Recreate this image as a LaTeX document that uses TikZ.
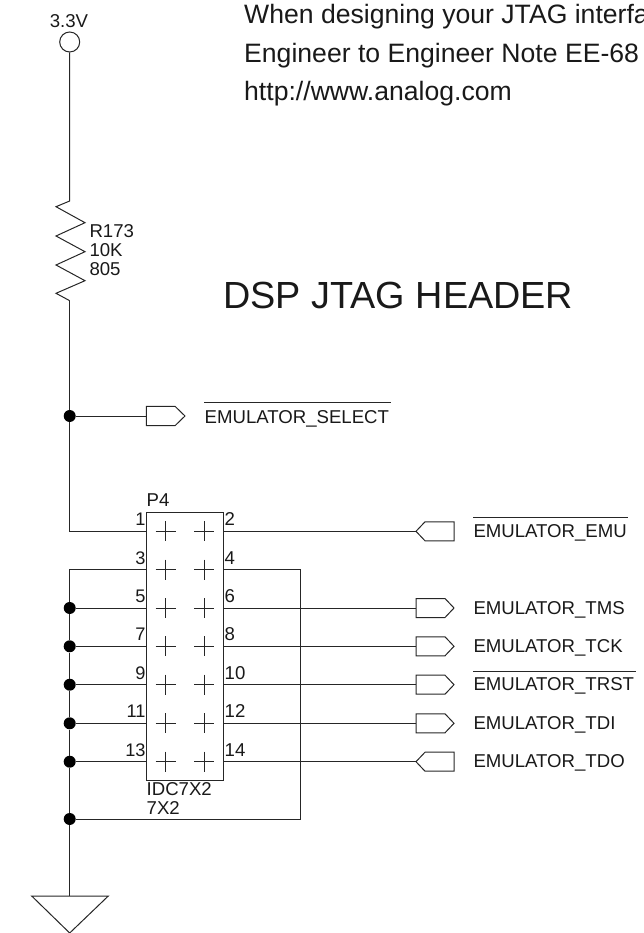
\documentclass[tikz,border=0pt]{standalone}
\usepackage{fontspec}
\setmainfont{Liberation Sans}
\tikzset{
 wire/.style={draw=black!85,line width=1pt},
 lab/.style={anchor=base west,inner sep=0pt,font=\fontsize{18.6}{20}\selectfont,text=black!90},
 pinl/.style={anchor=base east,inner sep=0pt,font=\fontsize{18.2}{20}\selectfont,text=black!90},
 big/.style={anchor=base west,inner sep=0pt,font=\fontsize{37.8}{40}\selectfont,text=black!90},
 note/.style={anchor=base west,inner sep=0pt,font=\fontsize{26.6}{30}\selectfont,text=black!90},
 dot/.style={circle,fill=black,inner sep=0pt,minimum size=12pt},
}
\newcommand{\pinrow}[3]{%
 % #1 y, #2 left no, #3 right no
 \coordinate (L#2) at (146.5,#1);
 \coordinate (R#3) at (223.5,#1);
 \draw[wire] (165.7,#1-10) -- (165.7,#1+10) (155.7,#1) -- (175.7,#1);
 \draw[wire] (204.3,#1-10) -- (204.3,#1+10) (194.3,#1) -- (214.3,#1);
 \node[pinl] (nl#2) at (145.8,#1-5.5) {#2};
 \node[lab] (nr#3) at (224.5,#1-5.5) {#3};
}
\newcommand{\tagout}[3]{% name, y, text
 \draw[wire] (416,#2-9.5) -- (445,#2-9.5) -- (454,#2) -- (445,#2+9.5) -- (416,#2+9.5) -- cycle;
 \node[lab] (t#1) at (473.3,#2+6) {#3};
 \coordinate (#1p) at (416,#2);
}
\newcommand{\tagin}[3]{%
 \draw[wire] (416,#2) -- (425,#2-9.5) -- (454,#2-9.5) -- (454,#2+9.5) -- (425,#2+9.5) -- cycle;
 \node[lab] (t#1) at (473.3,#2+6) {#3};
 \coordinate (#1p) at (416,#2);
}
\begin{document}
\begin{tikzpicture}[x=1pt,y=-1pt]
\useasboundingbox (0,0) rectangle (643,933);
% power
\node[lab,anchor=base] (vlab) at (69,27.5) {3.3V};
\node[circle,wire,inner sep=0pt,minimum size=20pt] (vcc) at (69.7,42) {};
\coordinate (r1) at (69.7,201);
\coordinate (r2) at (69.7,300.7);
\draw[wire] (vcc.south) -- (r1) -- (56,206.7) -- (85,222.7) -- (56,236) -- (85,251.7) -- (56,265) -- (85,280.7) -- (56,293.3) -- (r2);
\node[lab] (rn) at (89.3,237.5) {R173};
\node[lab] (rv) at (89.3,256.5) {10K};
\node[lab] (rp) at (89.3,275.5) {805};
% text
\node[note] (n1) at (244,23.5) {When designing your JTAG interfa};
\node[note] (n2) at (244,62.5) {Engineer to Engineer Note EE-68};
\node[note] (n3) at (244,101) {http://www.analog.com};
\node[big] (title) at (223,308.5) {DSP JTAG HEADER};
% connector
\node[draw=black!85,line width=1pt,inner sep=0pt,minimum width=77pt,minimum height=268.4pt] (p4) at (184.9,646.5) {};
\node[lab] (p4n) at (146.5,506) {P4};
\node[lab] (p4a) at (146.5,795) {IDC7X2};
\node[lab] (p4b) at (146.5,814) {7X2};
\pinrow{531.3}{1}{2}
\pinrow{569.7}{3}{4}
\pinrow{608}{5}{6}
\pinrow{646.3}{7}{8}
\pinrow{684.7}{9}{10}
\pinrow{723.3}{11}{12}
\pinrow{761.7}{13}{14}
% junction dots
\node[dot] (jsel) at (69.7,416) {};
\node[dot] (j5) at (69.7,608) {};
\node[dot] (j7) at (69.7,646.3) {};
\node[dot] (j9) at (69.7,684.7) {};
\node[dot] (j11) at (69.7,723.3) {};
\node[dot] (j13) at (69.7,761.7) {};
\node[dot] (jb) at (69.7,819) {};
% ground
\coordinate (gt) at (69.7,569.7);
\coordinate (g) at (69.7,896);
\coordinate (rb) at (300,569.7);
\coordinate (rc) at (300,819);
\draw[wire] (r2) -- (jsel) -- (69.7,531.3) -- (L1);
\draw[wire] (L3) -- (gt) -- (j5) -- (j7) -- (j9) -- (j11) -- (j13) -- (jb) -- (g);
\draw[wire] (L5) -- (j5) (L7) -- (j7) (L9) -- (j9) (L11) -- (j11) (L13) -- (j13);
\draw[wire] (R4) -- (rb) -- (rc) -- (jb);
\draw[wire] (31.7,896) -- (108.3,896) -- (69.7,933) -- cycle;
% select tag
\draw[wire] (146.3,406.3) -- (175,406.3) -- (185,416) -- (175,425.7) -- (146.3,425.7) -- cycle;
\coordinate (selp) at (146.3,416);
\draw[wire] (jsel) -- (selp);
\node[lab] (tsel) at (204.5,423) {EMULATOR\_SELECT};
\draw[wire] (204,402.3) -- (391,402.3);
% signals
\tagin{emu}{531.3}{EMULATOR\_EMU}
\tagout{tms}{608}{EMULATOR\_TMS}
\tagout{tck}{646.3}{EMULATOR\_TCK}
\tagout{trst}{684.7}{EMULATOR\_TRST}
\tagout{tdi}{723.3}{EMULATOR\_TDI}
\tagin{tdo}{761.7}{EMULATOR\_TDO}
\draw[wire] (R2) -- (emup) (R6) -- (tmsp) (R8) -- (tckp) (R10) -- (trstp) (R12) -- (tdip) (R14) -- (tdop);
\draw[wire] (473.3,517) -- (627.5,517);
\draw[wire] (473.3,671) -- (635.5,671);
\end{tikzpicture}
\end{document}
